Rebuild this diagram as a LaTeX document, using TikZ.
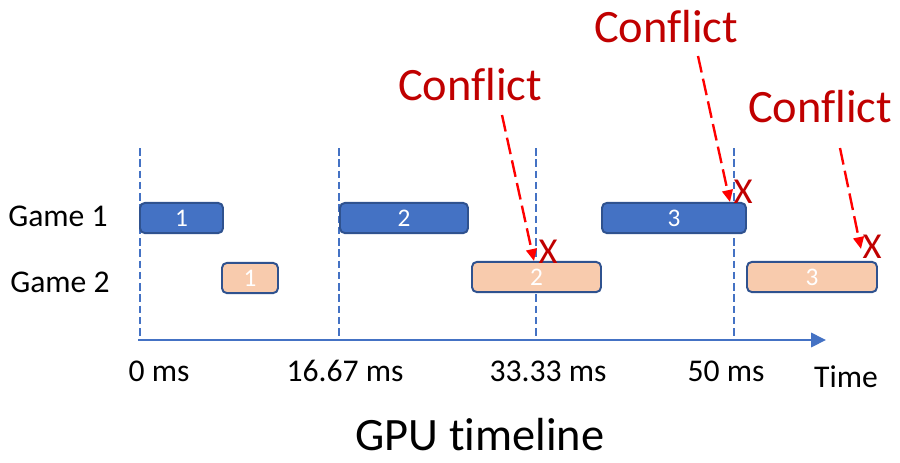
\documentclass[tikz,border=0pt]{standalone}
\usepackage{fontspec}
\setmainfont{Carlito}[Ligatures=NoCommon]
\usepackage{tikz}
\usetikzlibrary{arrows.meta}
\usetikzlibrary{positioning}
\usepackage{xcolor}

\definecolor{jobblue}{HTML}{4472C4}
\definecolor{jobedge}{HTML}{2F528F}
\definecolor{jobpeach}{HTML}{F8CBAD}
\definecolor{conflictred}{HTML}{C00000}

\begin{document}
\begin{tikzpicture}[x=0.025cm,y=-0.025cm,
  % one unit is one pixel of the reference, y runs downwards
  job/.style={draw=jobedge,line width=1.4pt,rounded corners=3.5pt,
    minimum height=21.5pt,inner sep=0pt,text=white,
    font=\fontsize{18}{18}\selectfont},
  gameone/.style={job,fill=jobblue},
  gametwo/.style={job,fill=jobpeach},
  jobwidth/.style={minimum width=#1*0.025cm},
  rowlabel/.style={anchor=base,font=\fontsize{22.5}{22.5}\selectfont},
  ticklabel/.style={anchor=base,font=\fontsize{22.5}{22.5}\selectfont},
  conflict/.style={anchor=base,text=conflictred,font=\fontsize{33}{33}\selectfont},
  hitmark/.style={anchor=base,text=conflictred,font=\fontsize{26}{26}\selectfont},
  vsync/.style={draw=jobblue,line width=0.8pt,dash pattern=on 5.5pt off 2.5pt},
  timeaxis/.style={draw=jobblue,line width=2pt,-{Triangle[length=10.5pt,width=10pt]}},
  conflictarrow/.style={draw=red,line width=1.7pt,dash pattern=on 12pt off 4.5pt,
    -{Triangle[length=8.5pt,width=7.5pt]}}]

 \useasboundingbox (0,0) rectangle (900,462);

 % frame boundaries (every 16.67 ms)
 \draw[vsync] (140,148) -- (140,340);
 \draw[vsync] (339,148) -- (339,340);
 \draw[vsync] (536,148) -- (536,340);
 \draw[vsync] (734,148) -- (734,340);

 % time axis
 \coordinate (tstart) at (138,340);
 \coordinate (tend) at (826,340);
 \draw[timeaxis] (tstart) -- (tend);

 % row names
 \node[rowlabel] (gamea) at (58,226) {Game 1};
 \node[rowlabel] (gameb) at (60,292) {Game 2};

 % frames of game 1
 \node[gameone,jobwidth=83] (a1) at (181.5,218) {1};
 \node[gameone,jobwidth=128] (a2) at (404,218) {2};
 \node[gameone,jobwidth=144] (a3) at (674,218) {3};

 % frames of game 2
 \node[gametwo,jobwidth=56] (b1) at (250,278) {1};
 \node[gametwo,jobwidth=129] (b2) at (536.5,277) {2};
 \node[gametwo,jobwidth=130] (b3) at (812,277) {3};

 % tick labels below the axis
 \node[ticklabel] (t0) at (159,381) {0 ms};
 \node[ticklabel] (t1) at (345,381) {16.67 ms};
 \node[ticklabel] (t2) at (548,381) {33.33 ms};
 \node[ticklabel] (t3) at (726,381) {50 ms};
 \node[ticklabel] (tlabel) at (846,387) {Time};

 % caption
 \node[anchor=base,inner sep=0pt,font=\fontsize{33}{33}\selectfont] (caption) at (480,450) {GPU timeline};

 % conflicts: label, dashed arrow and the X where the frame is missed
 \node[conflict] (conf1) at (470,100) {Conflict};
 \node[conflict] (conf2) at (666,42) {Conflict};
 \node[conflict] (conf3) at (820,122) {Conflict};

 \node[hitmark] (x1) at (548,263) {X};
 \node[hitmark] (x2) at (743,203) {X};
 \node[hitmark] (x3) at (872,258) {X};

 \coordinate (from1) at (502,115);
 \coordinate (hit1) at (534,261);
 \coordinate (from2) at (698,56);
 \coordinate (hit2) at (730,202);
 \coordinate (from3) at (840,148);
 \coordinate (hit3) at (861,249);

 \draw[conflictarrow] (from1) -- (hit1);
 \draw[conflictarrow] (from2) -- (hit2);
 \draw[conflictarrow] (from3) -- (hit3);

\end{tikzpicture}
\end{document}
